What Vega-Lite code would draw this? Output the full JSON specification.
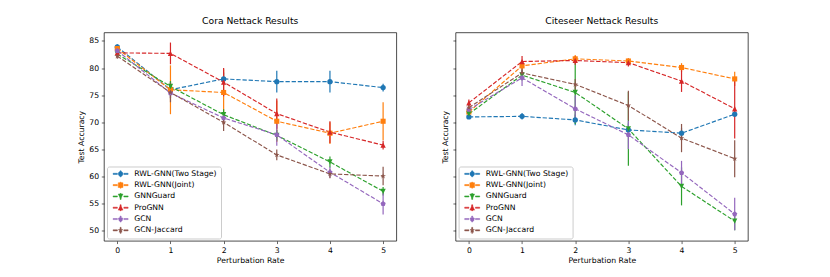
{
  "$schema": "https://vega.github.io/schema/vega-lite/v6.json",
  "background": "white",
  "padding": {"left": 77, "top": 16.5, "right": 0, "bottom": 0},
  "config": {
    "font": "DejaVu Sans",
    "view": {"stroke": "#000000", "strokeWidth": 0.7},
    "title": {"font": "DejaVu Sans", "fontSize": 9.2, "fontWeight": "normal", "color": "#000000", "offset": 6},
    "axis": {"labelFont": "DejaVu Sans", "labelFontSize": 7.7, "labelColor": "#000000", "titleFont": "DejaVu Sans", "titleFontSize": 7.7, "titleFontWeight": "normal", "titleColor": "#000000", "tickColor": "#000000", "tickSize": 2.7, "tickWidth": 0.6, "labelPadding": 2.7, "titlePadding": 3, "domain": false, "grid": false, "labelOverlap": false, "labelFlush": false},
    "legend": {"title": null, "orient": "bottom-left", "offset": 2.5, "symbolSize": 25, "labelFont": "DejaVu Sans", "labelFontSize": 7.7, "labelColor": "#000000", "padding": 3.5, "rowPadding": 2.3, "fillColor": "rgba(255,255,255,0.8)", "strokeColor": "#cccccc", "cornerRadius": 2, "labelOffset": 16, "symbolStrokeWidth": 0.5}
  },
  "datasets": {
    "acc": [
      {"d": "Cora", "m": "RWL-GNN(Two Stage)", "x": 0, "y": 83.9, "lo": 83.4, "hi": 84.4},
      {"d": "Cora", "m": "RWL-GNN(Two Stage)", "x": 1, "y": 76.0, "lo": 74.5, "hi": 77.5},
      {"d": "Cora", "m": "RWL-GNN(Two Stage)", "x": 2, "y": 78.0, "lo": 76.8, "hi": 79.2},
      {"d": "Cora", "m": "RWL-GNN(Two Stage)", "x": 3, "y": 77.5, "lo": 75.5, "hi": 79.5},
      {"d": "Cora", "m": "RWL-GNN(Two Stage)", "x": 4, "y": 77.5, "lo": 75.5, "hi": 79.5},
      {"d": "Cora", "m": "RWL-GNN(Two Stage)", "x": 5, "y": 76.4, "lo": 75.7, "hi": 77.1},
      {"d": "Cora", "m": "RWL-GNN(Joint)", "x": 0, "y": 83.6, "lo": 83.1, "hi": 84.1},
      {"d": "Cora", "m": "RWL-GNN(Joint)", "x": 1, "y": 76.0, "lo": 71.5, "hi": 80.5},
      {"d": "Cora", "m": "RWL-GNN(Joint)", "x": 2, "y": 75.5, "lo": 71.2, "hi": 79.8},
      {"d": "Cora", "m": "RWL-GNN(Joint)", "x": 3, "y": 70.2, "lo": 66.4, "hi": 74.0},
      {"d": "Cora", "m": "RWL-GNN(Joint)", "x": 4, "y": 68.0, "lo": 66.0, "hi": 70.0},
      {"d": "Cora", "m": "RWL-GNN(Joint)", "x": 5, "y": 70.2, "lo": 66.7, "hi": 73.7},
      {"d": "Cora", "m": "GNNGuard", "x": 0, "y": 82.6, "lo": 82.1, "hi": 83.1},
      {"d": "Cora", "m": "GNNGuard", "x": 1, "y": 76.6, "lo": 75.6, "hi": 77.6},
      {"d": "Cora", "m": "GNNGuard", "x": 2, "y": 71.4, "lo": 70.4, "hi": 72.4},
      {"d": "Cora", "m": "GNNGuard", "x": 3, "y": 67.6, "lo": 66.6, "hi": 68.6},
      {"d": "Cora", "m": "GNNGuard", "x": 4, "y": 62.7, "lo": 61.7, "hi": 63.7},
      {"d": "Cora", "m": "GNNGuard", "x": 5, "y": 57.3, "lo": 56.5, "hi": 58.1},
      {"d": "Cora", "m": "ProGNN", "x": 0, "y": 82.8, "lo": 82.5, "hi": 83.1},
      {"d": "Cora", "m": "ProGNN", "x": 1, "y": 82.7, "lo": 80.7, "hi": 84.7},
      {"d": "Cora", "m": "ProGNN", "x": 2, "y": 77.4, "lo": 74.8, "hi": 80.0},
      {"d": "Cora", "m": "ProGNN", "x": 3, "y": 71.6, "lo": 68.8, "hi": 74.4},
      {"d": "Cora", "m": "ProGNN", "x": 4, "y": 68.2, "lo": 66.2, "hi": 70.2},
      {"d": "Cora", "m": "ProGNN", "x": 5, "y": 65.8, "lo": 65.0, "hi": 66.6},
      {"d": "Cora", "m": "GCN", "x": 0, "y": 83.2, "lo": 82.7, "hi": 83.7},
      {"d": "Cora", "m": "GCN", "x": 1, "y": 75.4, "lo": 74.4, "hi": 76.4},
      {"d": "Cora", "m": "GCN", "x": 2, "y": 70.8, "lo": 69.8, "hi": 71.8},
      {"d": "Cora", "m": "GCN", "x": 3, "y": 67.7, "lo": 65.7, "hi": 69.7},
      {"d": "Cora", "m": "GCN", "x": 4, "y": 60.8, "lo": 59.8, "hi": 61.8},
      {"d": "Cora", "m": "GCN", "x": 5, "y": 55.0, "lo": 53.0, "hi": 57.0},
      {"d": "Cora", "m": "GCN-Jaccard", "x": 0, "y": 82.2, "lo": 81.7, "hi": 82.7},
      {"d": "Cora", "m": "GCN-Jaccard", "x": 1, "y": 75.5, "lo": 73.7, "hi": 77.3},
      {"d": "Cora", "m": "GCN-Jaccard", "x": 2, "y": 70.0, "lo": 68.4, "hi": 71.6},
      {"d": "Cora", "m": "GCN-Jaccard", "x": 3, "y": 64.0, "lo": 63.0, "hi": 65.0},
      {"d": "Cora", "m": "GCN-Jaccard", "x": 4, "y": 60.5, "lo": 59.7, "hi": 61.3},
      {"d": "Cora", "m": "GCN-Jaccard", "x": 5, "y": 60.1, "lo": 58.4, "hi": 61.8},
      {"d": "Citeseer", "m": "RWL-GNN(Two Stage)", "x": 0, "y": 71.0, "lo": 70.6, "hi": 71.4},
      {"d": "Citeseer", "m": "RWL-GNN(Two Stage)", "x": 1, "y": 71.1, "lo": 70.5, "hi": 71.7},
      {"d": "Citeseer", "m": "RWL-GNN(Two Stage)", "x": 2, "y": 70.45, "lo": 69.45, "hi": 71.45},
      {"d": "Citeseer", "m": "RWL-GNN(Two Stage)", "x": 3, "y": 68.6, "lo": 67.4, "hi": 69.8},
      {"d": "Citeseer", "m": "RWL-GNN(Two Stage)", "x": 4, "y": 68.0, "lo": 67.0, "hi": 69.0},
      {"d": "Citeseer", "m": "RWL-GNN(Two Stage)", "x": 5, "y": 71.5, "lo": 71.0, "hi": 72.0},
      {"d": "Citeseer", "m": "RWL-GNN(Joint)", "x": 0, "y": 71.9, "lo": 71.4, "hi": 72.4},
      {"d": "Citeseer", "m": "RWL-GNN(Joint)", "x": 1, "y": 80.4, "lo": 79.4, "hi": 81.4},
      {"d": "Citeseer", "m": "RWL-GNN(Joint)", "x": 2, "y": 81.7, "lo": 81.0, "hi": 82.4},
      {"d": "Citeseer", "m": "RWL-GNN(Joint)", "x": 3, "y": 81.3, "lo": 80.8, "hi": 81.8},
      {"d": "Citeseer", "m": "RWL-GNN(Joint)", "x": 4, "y": 80.1, "lo": 79.3, "hi": 80.9},
      {"d": "Citeseer", "m": "RWL-GNN(Joint)", "x": 5, "y": 78.0, "lo": 76.7, "hi": 79.3},
      {"d": "Citeseer", "m": "GNNGuard", "x": 0, "y": 71.55, "lo": 71.05, "hi": 72.05},
      {"d": "Citeseer", "m": "GNNGuard", "x": 1, "y": 78.7, "lo": 77.7, "hi": 79.7},
      {"d": "Citeseer", "m": "GNNGuard", "x": 2, "y": 75.5, "lo": 69.7, "hi": 81.3},
      {"d": "Citeseer", "m": "GNNGuard", "x": 3, "y": 68.8, "lo": 62.0, "hi": 75.6},
      {"d": "Citeseer", "m": "GNNGuard", "x": 4, "y": 58.2, "lo": 54.7, "hi": 61.7},
      {"d": "Citeseer", "m": "GNNGuard", "x": 5, "y": 51.8, "lo": 50.1, "hi": 53.5},
      {"d": "Citeseer", "m": "ProGNN", "x": 0, "y": 73.6, "lo": 73.0, "hi": 74.2},
      {"d": "Citeseer", "m": "ProGNN", "x": 1, "y": 81.2, "lo": 80.2, "hi": 82.2},
      {"d": "Citeseer", "m": "ProGNN", "x": 2, "y": 81.4, "lo": 80.6, "hi": 82.2},
      {"d": "Citeseer", "m": "ProGNN", "x": 3, "y": 81.0, "lo": 80.3, "hi": 81.7},
      {"d": "Citeseer", "m": "ProGNN", "x": 4, "y": 77.6, "lo": 75.6, "hi": 79.6},
      {"d": "Citeseer", "m": "ProGNN", "x": 5, "y": 72.5, "lo": 67.0, "hi": 78.0},
      {"d": "Citeseer", "m": "GCN", "x": 0, "y": 72.35, "lo": 71.85, "hi": 72.85},
      {"d": "Citeseer", "m": "GCN", "x": 1, "y": 78.2, "lo": 76.7, "hi": 79.7},
      {"d": "Citeseer", "m": "GCN", "x": 2, "y": 72.5, "lo": 70.0, "hi": 75.0},
      {"d": "Citeseer", "m": "GCN", "x": 3, "y": 67.7, "lo": 65.1, "hi": 70.3},
      {"d": "Citeseer", "m": "GCN", "x": 4, "y": 60.7, "lo": 58.5, "hi": 62.9},
      {"d": "Citeseer", "m": "GCN", "x": 5, "y": 53.1, "lo": 50.1, "hi": 56.1},
      {"d": "Citeseer", "m": "GCN-Jaccard", "x": 0, "y": 72.7, "lo": 72.2, "hi": 73.2},
      {"d": "Citeseer", "m": "GCN-Jaccard", "x": 1, "y": 79.1, "lo": 78.1, "hi": 80.1},
      {"d": "Citeseer", "m": "GCN-Jaccard", "x": 2, "y": 77.0, "lo": 76.0, "hi": 78.0},
      {"d": "Citeseer", "m": "GCN-Jaccard", "x": 3, "y": 73.1, "lo": 70.4, "hi": 75.8},
      {"d": "Citeseer", "m": "GCN-Jaccard", "x": 4, "y": 67.1, "lo": 64.5, "hi": 69.7},
      {"d": "Citeseer", "m": "GCN-Jaccard", "x": 5, "y": 63.3, "lo": 59.9, "hi": 66.7}
    ]
  },
  "spacing": 58.6,
  "bounds": "flush",
  "resolve": {"scale": {"color": "independent", "shape": "independent"}, "legend": {"color": "independent", "shape": "independent"}},
  "hconcat": [
    {
      "title": {"text": "Cora Nettack Results"},
      "width": 292.4,
      "height": 208.4,
      "data": {"name": "acc"},
      "transform": [{"filter": "datum.d === 'Cora'"}],
      "encoding": {
        "x": {"field": "x", "type": "quantitative", "scale": {"domain": [-0.25, 5.25], "nice": false, "zero": false}, "axis": {"values": [0, 1, 2, 3, 4, 5], "format": "d", "title": "Perturbation Rate"}},
        "y": {"field": "y", "type": "quantitative", "scale": {"domain": [48.16, 86.55], "nice": false, "zero": false}, "axis": {"values": [50, 55, 60, 65, 70, 75, 80, 85], "tickCount": 8, "title": "Test Accuracy"}},
        "color": {"field": "m", "type": "nominal", "scale": {"domain": ["RWL-GNN(Two Stage)", "RWL-GNN(Joint)", "GNNGuard", "ProGNN", "GCN", "GCN-Jaccard"], "range": ["#1f77b4", "#ff7f0e", "#2ca02c", "#d62728", "#9467bd", "#8c564b"]}, "legend": {"orient": "bottom-left"}}
      },
      "layer": [
        {"mark": {"type": "rule", "strokeWidth": 1.2}, "encoding": {"y": {"field": "lo", "type": "quantitative", "scale": {"domain": [48.16, 86.55], "nice": false, "zero": false}, "axis": {"values": [50, 55, 60, 65, 70, 75, 80, 85], "tickCount": 8, "title": "Test Accuracy"}}, "y2": {"field": "hi"}}},
        {"mark": {"type": "line", "strokeDash": [4.3, 1.85], "strokeWidth": 1.15}},
        {"transform": [{"filter": "datum.m === 'RWL-GNN(Two Stage)'"}], "mark": {"type": "point", "filled": true, "opacity": 1, "size": 28, "shape": "circle"}},
        {"transform": [{"filter": "datum.m === 'RWL-GNN(Joint)'"}], "mark": {"type": "point", "filled": true, "opacity": 1, "size": 26, "shape": "square"}},
        {"transform": [{"filter": "datum.m === 'GNNGuard'"}], "mark": {"type": "point", "filled": true, "opacity": 1, "size": 28, "shape": "M0,1L-1,-1H1Z"}},
        {"transform": [{"filter": "datum.m === 'ProGNN'"}], "mark": {"type": "point", "filled": true, "opacity": 1, "size": 28, "shape": "M0,-1L1,1H-1Z"}},
        {"transform": [{"filter": "datum.m === 'GCN'"}], "mark": {"type": "point", "filled": true, "opacity": 1, "size": 30, "shape": "M0,-1L0.951,-0.309L0.588,0.809L-0.588,0.809L-0.951,-0.309Z"}},
        {"transform": [{"filter": "datum.m === 'GCN-Jaccard'"}], "mark": {"type": "point", "filled": true, "opacity": 1, "size": 34, "shape": "M0,-1L0.225,-0.309L0.951,-0.309L0.363,0.118L0.588,0.809L0,0.382L-0.588,0.809L-0.363,0.118L-0.951,-0.309L-0.225,-0.309Z"}},
        {"transform": [{"filter": "false"}], "mark": {"type": "point", "filled": true, "opacity": 1}, "encoding": {"shape": {"field": "m", "type": "nominal", "scale": {"domain": ["RWL-GNN(Two Stage)", "RWL-GNN(Joint)", "GNNGuard", "ProGNN", "GCN", "GCN-Jaccard"], "range": [
          "M-0.5,-0.22H1.2V0.22H-0.5ZM3.8,-0.22H5.5V0.22H3.8ZM2.3,-1.2H2.7V1.2H2.3ZM3.45,0A0.95,0.95,0,1,1,1.55,0A0.95,0.95,0,1,1,3.45,0Z",
          "M-0.5,-0.22H1.2V0.22H-0.5ZM3.8,-0.22H5.5V0.22H3.8ZM2.3,-1.2H2.7V1.2H2.3ZM1.55,-0.95H3.45V0.95H1.55Z",
          "M-0.5,-0.22H1.2V0.22H-0.5ZM3.8,-0.22H5.5V0.22H3.8ZM2.3,-1.2H2.7V1.2H2.3ZM2.5,0.95L1.55,-0.95H3.45Z",
          "M-0.5,-0.22H1.2V0.22H-0.5ZM3.8,-0.22H5.5V0.22H3.8ZM2.3,-1.2H2.7V1.2H2.3ZM2.5,-0.95L3.45,0.95H1.55Z",
          "M-0.5,-0.22H1.2V0.22H-0.5ZM3.8,-0.22H5.5V0.22H3.8ZM2.3,-1.2H2.7V1.2H2.3ZM2.5,-0.95L3.403,-0.294L3.059,0.769L1.941,0.769L1.597,-0.294Z",
          "M-0.5,-0.22H1.2V0.22H-0.5ZM3.8,-0.22H5.5V0.22H3.8ZM2.3,-1.2H2.7V1.2H2.3ZM2.5,-0.95L2.713,-0.294L3.403,-0.294L2.845,0.112L3.059,0.769L2.5,0.363L1.941,0.769L2.155,0.112L1.597,-0.294L2.287,-0.294Z"
        ]}, "legend": {"orient": "bottom-left"}}}}
      ]
    },
    {
      "title": {"text": "Citeseer Nettack Results"},
      "width": 292.4,
      "height": 208.4,
      "data": {"name": "acc"},
      "transform": [{"filter": "datum.d === 'Citeseer'"}],
      "encoding": {
        "x": {"field": "x", "type": "quantitative", "scale": {"domain": [-0.25, 5.25], "nice": false, "zero": false}, "axis": {"values": [0, 1, 2, 3, 4, 5], "format": "d", "title": "Perturbation Rate"}},
        "y": {"field": "y", "type": "quantitative", "scale": {"domain": [48.16, 86.55], "nice": false, "zero": false}, "axis": {"values": [50, 55, 60, 65, 70, 75, 80, 85], "tickCount": 8, "labels": false, "title": "Test Accuracy"}},
        "color": {"field": "m", "type": "nominal", "scale": {"domain": ["RWL-GNN(Two Stage)", "RWL-GNN(Joint)", "GNNGuard", "ProGNN", "GCN", "GCN-Jaccard"], "range": ["#1f77b4", "#ff7f0e", "#2ca02c", "#d62728", "#9467bd", "#8c564b"]}, "legend": {"orient": "bottom-left"}}
      },
      "layer": [
        {"mark": {"type": "rule", "strokeWidth": 1.2}, "encoding": {"y": {"field": "lo", "type": "quantitative", "scale": {"domain": [48.16, 86.55], "nice": false, "zero": false}, "axis": {"values": [50, 55, 60, 65, 70, 75, 80, 85], "tickCount": 8, "labels": false, "title": "Test Accuracy"}}, "y2": {"field": "hi"}}},
        {"mark": {"type": "line", "strokeDash": [4.3, 1.85], "strokeWidth": 1.15}},
        {"transform": [{"filter": "datum.m === 'RWL-GNN(Two Stage)'"}], "mark": {"type": "point", "filled": true, "opacity": 1, "size": 28, "shape": "circle"}},
        {"transform": [{"filter": "datum.m === 'RWL-GNN(Joint)'"}], "mark": {"type": "point", "filled": true, "opacity": 1, "size": 26, "shape": "square"}},
        {"transform": [{"filter": "datum.m === 'GNNGuard'"}], "mark": {"type": "point", "filled": true, "opacity": 1, "size": 28, "shape": "M0,1L-1,-1H1Z"}},
        {"transform": [{"filter": "datum.m === 'ProGNN'"}], "mark": {"type": "point", "filled": true, "opacity": 1, "size": 28, "shape": "M0,-1L1,1H-1Z"}},
        {"transform": [{"filter": "datum.m === 'GCN'"}], "mark": {"type": "point", "filled": true, "opacity": 1, "size": 30, "shape": "M0,-1L0.951,-0.309L0.588,0.809L-0.588,0.809L-0.951,-0.309Z"}},
        {"transform": [{"filter": "datum.m === 'GCN-Jaccard'"}], "mark": {"type": "point", "filled": true, "opacity": 1, "size": 34, "shape": "M0,-1L0.225,-0.309L0.951,-0.309L0.363,0.118L0.588,0.809L0,0.382L-0.588,0.809L-0.363,0.118L-0.951,-0.309L-0.225,-0.309Z"}},
        {"transform": [{"filter": "false"}], "mark": {"type": "point", "filled": true, "opacity": 1}, "encoding": {"shape": {"field": "m", "type": "nominal", "scale": {"domain": ["RWL-GNN(Two Stage)", "RWL-GNN(Joint)", "GNNGuard", "ProGNN", "GCN", "GCN-Jaccard"], "range": [
          "M-0.5,-0.22H1.2V0.22H-0.5ZM3.8,-0.22H5.5V0.22H3.8ZM2.3,-1.2H2.7V1.2H2.3ZM3.45,0A0.95,0.95,0,1,1,1.55,0A0.95,0.95,0,1,1,3.45,0Z",
          "M-0.5,-0.22H1.2V0.22H-0.5ZM3.8,-0.22H5.5V0.22H3.8ZM2.3,-1.2H2.7V1.2H2.3ZM1.55,-0.95H3.45V0.95H1.55Z",
          "M-0.5,-0.22H1.2V0.22H-0.5ZM3.8,-0.22H5.5V0.22H3.8ZM2.3,-1.2H2.7V1.2H2.3ZM2.5,0.95L1.55,-0.95H3.45Z",
          "M-0.5,-0.22H1.2V0.22H-0.5ZM3.8,-0.22H5.5V0.22H3.8ZM2.3,-1.2H2.7V1.2H2.3ZM2.5,-0.95L3.45,0.95H1.55Z",
          "M-0.5,-0.22H1.2V0.22H-0.5ZM3.8,-0.22H5.5V0.22H3.8ZM2.3,-1.2H2.7V1.2H2.3ZM2.5,-0.95L3.403,-0.294L3.059,0.769L1.941,0.769L1.597,-0.294Z",
          "M-0.5,-0.22H1.2V0.22H-0.5ZM3.8,-0.22H5.5V0.22H3.8ZM2.3,-1.2H2.7V1.2H2.3ZM2.5,-0.95L2.713,-0.294L3.403,-0.294L2.845,0.112L3.059,0.769L2.5,0.363L1.941,0.769L2.155,0.112L1.597,-0.294L2.287,-0.294Z"
        ]}, "legend": {"orient": "bottom-left"}}}}
      ]
    }
  ]
}
